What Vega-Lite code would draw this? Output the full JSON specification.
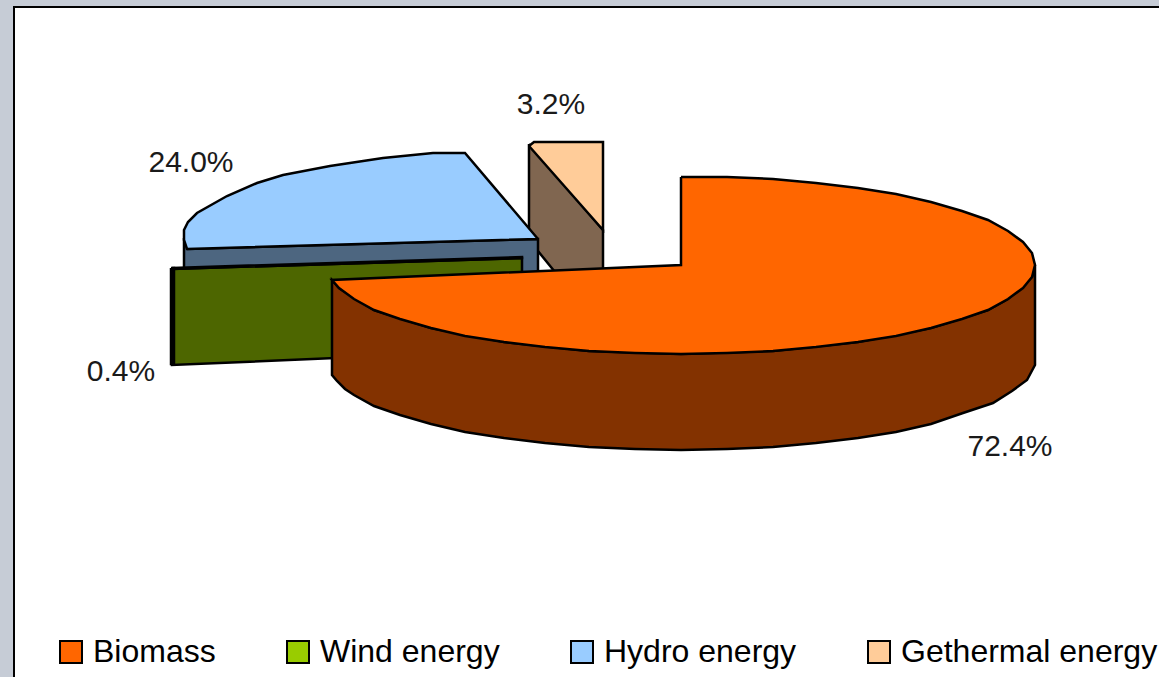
{"$schema":"https://vega.github.io/schema/vega-lite/v6.json","width":1155,"height":680,"autosize":{"type":"none"},"padding":{"left":14,"top":7,"right":0,"bottom":0},"background":"#c6ccd6","view":{"fill":"#ffffff","stroke":"#000000","strokeWidth":2},"datasets":{"outline":[
{"part":"Geo side","i":1,"x":529,"y":144},{"part":"Geo side","i":2,"x":603,"y":230},{"part":"Geo side","i":3,"x":603,"y":272},{"part":"Geo side","i":4,"x":555,"y":272},{"part":"Geo side","i":5,"x":529,"y":240},{"part":"Geo side","i":6,"x":529,"y":144},
{"part":"Gethermal energy","i":1,"x":529,"y":146},{"part":"Gethermal energy","i":2,"x":534,"y":142},{"part":"Gethermal energy","i":3,"x":603,"y":142},{"part":"Gethermal energy","i":4,"x":603,"y":230},{"part":"Gethermal energy","i":5,"x":529,"y":146},
{"part":"Hydro side","i":1,"x":184,"y":238},{"part":"Hydro side","i":2,"x":188,"y":249},{"part":"Hydro side","i":3,"x":538,"y":239},{"part":"Hydro side","i":4,"x":538,"y":275},{"part":"Hydro side","i":5,"x":184,"y":278},{"part":"Hydro side","i":6,"x":184,"y":238},
{"part":"Hydro energy","i":1,"x":538,"y":239},{"part":"Hydro energy","i":2,"x":465,"y":153},{"part":"Hydro energy","i":3,"x":433,"y":153},{"part":"Hydro energy","i":4,"x":383,"y":158},{"part":"Hydro energy","i":5,"x":330,"y":166},{"part":"Hydro energy","i":6,"x":283,"y":175},{"part":"Hydro energy","i":7,"x":257,"y":183},{"part":"Hydro energy","i":8,"x":227,"y":196},{"part":"Hydro energy","i":9,"x":197,"y":213},{"part":"Hydro energy","i":10,"x":188,"y":222},{"part":"Hydro energy","i":11,"x":184,"y":230},{"part":"Hydro energy","i":12,"x":184,"y":240},{"part":"Hydro energy","i":13,"x":187,"y":249},{"part":"Hydro energy","i":14,"x":538,"y":239},
{"part":"Wind side","i":1,"x":172,"y":269},{"part":"Wind side","i":2,"x":522,"y":258},{"part":"Wind side","i":3,"x":522,"y":350},{"part":"Wind side","i":4,"x":172,"y":365},{"part":"Wind side","i":5,"x":172,"y":269},
{"part":"Wind energy","i":1,"x":172,"y":268},{"part":"Wind energy","i":2,"x":522,"y":257},{"part":"Wind energy","i":3,"x":522,"y":258},{"part":"Wind energy","i":4,"x":172,"y":269},{"part":"Wind energy","i":5,"x":172,"y":268},
{"part":"Wind edge","i":1,"x":171,"y":268},{"part":"Wind edge","i":2,"x":174,"y":268},{"part":"Wind edge","i":3,"x":174,"y":364},{"part":"Wind edge","i":4,"x":171,"y":364},{"part":"Wind edge","i":5,"x":171,"y":268},
{"part":"Biomass side","i":1,"x":1035,"y":265},{"part":"Biomass side","i":2,"x":1032,"y":277},{"part":"Biomass side","i":3,"x":1008,"y":299},{"part":"Biomass side","i":4,"x":988,"y":310},{"part":"Biomass side","i":5,"x":931,"y":328},{"part":"Biomass side","i":6,"x":858,"y":342},{"part":"Biomass side","i":7,"x":773,"y":351},{"part":"Biomass side","i":8,"x":681,"y":354},{"part":"Biomass side","i":9,"x":589,"y":351},{"part":"Biomass side","i":10,"x":504,"y":342},{"part":"Biomass side","i":11,"x":431,"y":328},{"part":"Biomass side","i":12,"x":374,"y":310},{"part":"Biomass side","i":13,"x":339,"y":288},{"part":"Biomass side","i":14,"x":332,"y":280},{"part":"Biomass side","i":15,"x":332,"y":375},{"part":"Biomass side","i":16,"x":337,"y":381},{"part":"Biomass side","i":17,"x":345,"y":389},{"part":"Biomass side","i":18,"x":354,"y":395},{"part":"Biomass side","i":19,"x":374,"y":406},{"part":"Biomass side","i":20,"x":400,"y":415},{"part":"Biomass side","i":21,"x":431,"y":424},{"part":"Biomass side","i":22,"x":465,"y":432},{"part":"Biomass side","i":23,"x":504,"y":438},{"part":"Biomass side","i":24,"x":545,"y":443},{"part":"Biomass side","i":25,"x":589,"y":447},{"part":"Biomass side","i":26,"x":635,"y":449},{"part":"Biomass side","i":27,"x":681,"y":450},{"part":"Biomass side","i":28,"x":727,"y":449},{"part":"Biomass side","i":29,"x":773,"y":447},{"part":"Biomass side","i":30,"x":816,"y":443},{"part":"Biomass side","i":31,"x":858,"y":438},{"part":"Biomass side","i":32,"x":896,"y":432},{"part":"Biomass side","i":33,"x":931,"y":424},{"part":"Biomass side","i":34,"x":963,"y":413},{"part":"Biomass side","i":35,"x":993,"y":403},{"part":"Biomass side","i":36,"x":1012,"y":391},{"part":"Biomass side","i":37,"x":1027,"y":380},{"part":"Biomass side","i":38,"x":1035,"y":365},{"part":"Biomass side","i":39,"x":1035,"y":265},
{"part":"Biomass","i":1,"x":681,"y":177},{"part":"Biomass","i":2,"x":727,"y":177},{"part":"Biomass","i":3,"x":773,"y":179},{"part":"Biomass","i":4,"x":816,"y":183},{"part":"Biomass","i":5,"x":858,"y":188},{"part":"Biomass","i":6,"x":896,"y":194},{"part":"Biomass","i":7,"x":931,"y":202},{"part":"Biomass","i":8,"x":962,"y":211},{"part":"Biomass","i":9,"x":988,"y":220},{"part":"Biomass","i":10,"x":1008,"y":231},{"part":"Biomass","i":11,"x":1023,"y":242},{"part":"Biomass","i":12,"x":1032,"y":253},{"part":"Biomass","i":13,"x":1035,"y":265},{"part":"Biomass","i":14,"x":1032,"y":277},{"part":"Biomass","i":15,"x":1023,"y":288},{"part":"Biomass","i":16,"x":1008,"y":299},{"part":"Biomass","i":17,"x":988,"y":310},{"part":"Biomass","i":18,"x":962,"y":319},{"part":"Biomass","i":19,"x":931,"y":328},{"part":"Biomass","i":20,"x":896,"y":336},{"part":"Biomass","i":21,"x":858,"y":342},{"part":"Biomass","i":22,"x":816,"y":347},{"part":"Biomass","i":23,"x":773,"y":351},{"part":"Biomass","i":24,"x":727,"y":353},{"part":"Biomass","i":25,"x":681,"y":354},{"part":"Biomass","i":26,"x":635,"y":353},{"part":"Biomass","i":27,"x":589,"y":351},{"part":"Biomass","i":28,"x":545,"y":347},{"part":"Biomass","i":29,"x":504,"y":342},{"part":"Biomass","i":30,"x":465,"y":336},{"part":"Biomass","i":31,"x":431,"y":328},{"part":"Biomass","i":32,"x":400,"y":319},{"part":"Biomass","i":33,"x":374,"y":310},{"part":"Biomass","i":34,"x":354,"y":299},{"part":"Biomass","i":35,"x":339,"y":288},{"part":"Biomass","i":36,"x":332,"y":280},{"part":"Biomass","i":37,"x":681,"y":265},{"part":"Biomass","i":38,"x":681,"y":177}
],"labels":[{"label":"3.2%","x":551,"y":105},{"label":"24.0%","x":191,"y":163},{"label":"0.4%","x":121,"y":372},{"label":"72.4%","x":1010,"y":447}]},
"layer":[
{"data":{"name":"outline"},"mark":{"type":"line","stroke":"#000000","strokeWidth":2.5,"strokeJoin":"miter","clip":true},"encoding":{
"x":{"field":"x","type":"quantitative","scale":{"domain":[14,1169],"nice":false,"zero":false},"axis":null},
"y":{"field":"y","type":"quantitative","scale":{"domain":[687,7],"nice":false,"zero":false},"axis":null},
"order":{"field":"i","type":"quantitative"},
"fill":{"field":"part","type":"nominal","sort":null,"scale":{"domain":["Biomass","Wind energy","Hydro energy","Gethermal energy","Biomass side","Wind side","Wind edge","Hydro side","Geo side"],"range":["#ff6600","#99cc00","#99ccff","#ffcc99","#833200","#4d6600","#000000","#4d6680","#806650"]},
"legend":{"values":["Biomass","Wind energy","Hydro energy","Gethermal energy"],"title":null,"orient":"none","legendX":41,"legendY":629,"direction":"horizontal","columns":4,"columnPadding":66,"symbolType":"square","symbolSize":484,"symbolStrokeColor":"#000000","symbolStrokeWidth":2,"labelFont":"Liberation Sans","labelFontSize":32,"labelColor":"#000000","labelOffset":6,"labelLimit":400}}}},
{"data":{"name":"labels"},"mark":{"type":"text","font":"Liberation Sans","fontSize":30,"color":"#1a1a1a","align":"center","baseline":"middle"},"encoding":{"x":{"field":"x","type":"quantitative"},"y":{"field":"y","type":"quantitative"},"text":{"field":"label"}}}
]}
